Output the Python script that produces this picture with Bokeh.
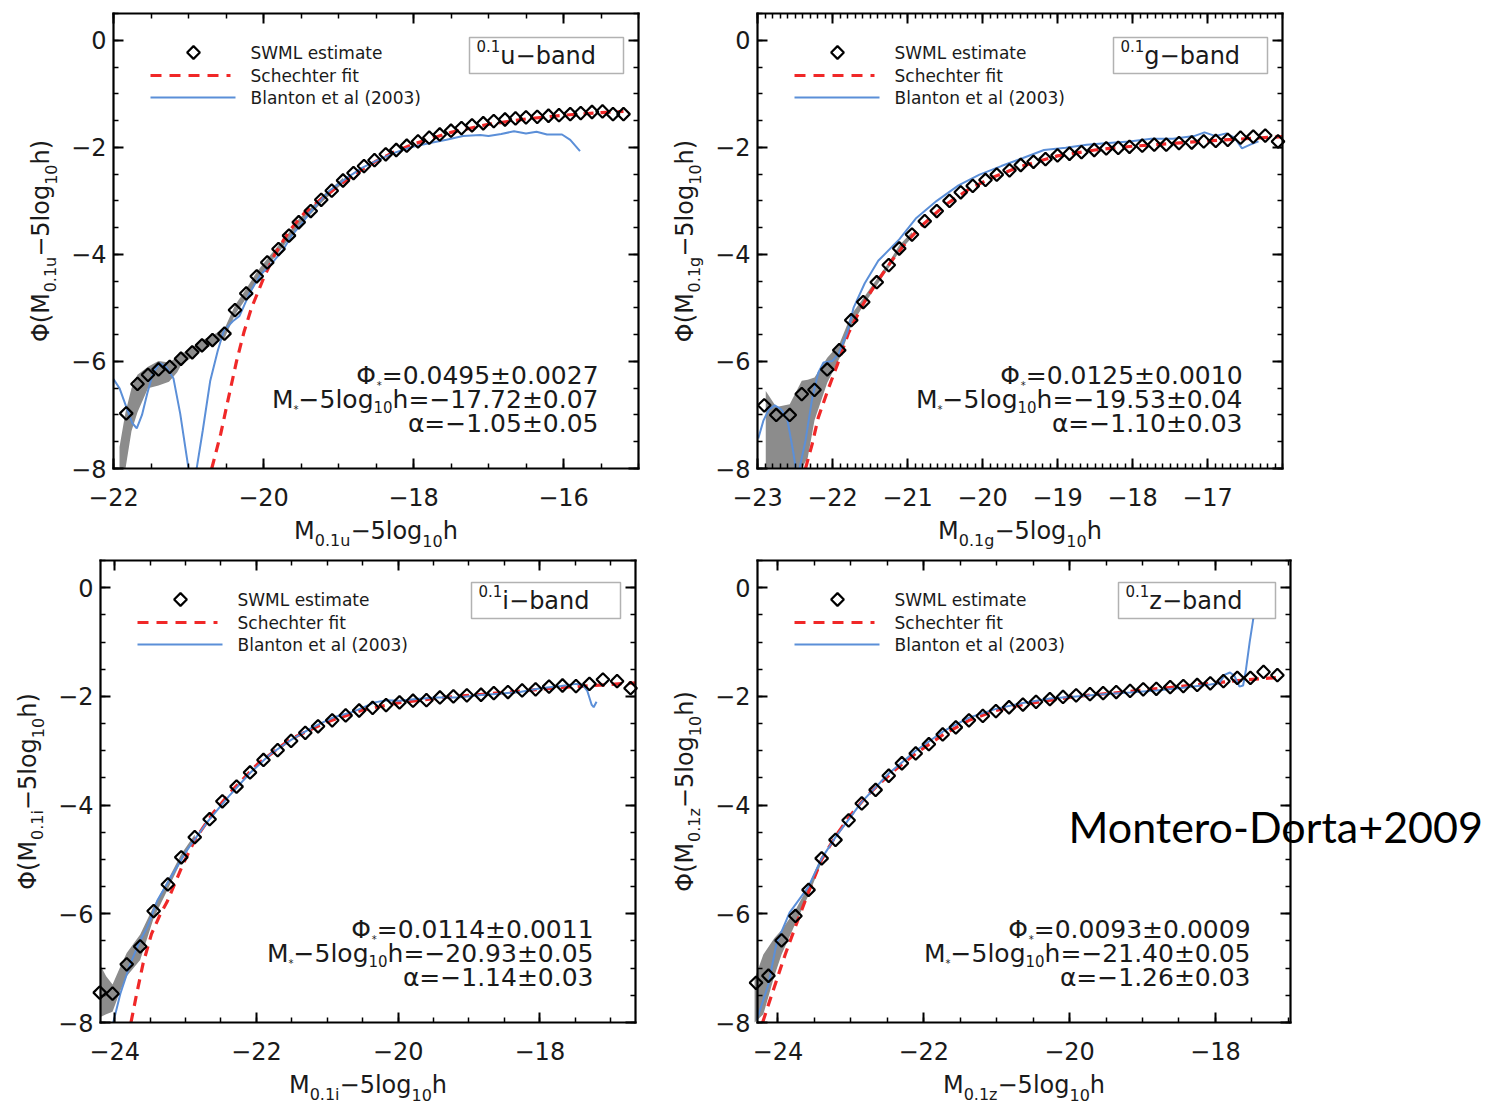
import numpy as np
from bokeh.plotting import figure
from bokeh.layouts import column, row
from bokeh.models import (LinearAxis, FixedTicker, Label, BoxAnnotation, Range1d)
from bokeh.embed import file_html
from bokeh.resources import INLINE

NAN = float("nan")

# ======================= DATA =======================
y_ticks = [0, -2, -4, -6, -8]
y_tick_labels = ["0", "\u22122", "\u22124", "\u22126", "\u22128"]

# ---- 0.1u band ----
u_xticks = [-22, -20, -18, -16]
u_xtick_labels = ["\u221222", "\u221220", "\u221218", "\u221216"]
u_swml_x = [-21.83, -21.68, -21.54, -21.40, -21.25, -21.10, -20.95, -20.82, -20.68, -20.52,
            -20.38, -20.23, -20.09, -19.95, -19.80, -19.66, -19.53, -19.37, -19.23, -19.09,
            -18.94, -18.80, -18.66, -18.52, -18.37, -18.23, -18.09, -17.94, -17.79, -17.65,
            -17.50, -17.36, -17.22, -17.07, -16.93, -16.78, -16.64, -16.50, -16.35, -16.20,
            -16.06, -15.91, -15.77, -15.62, -15.48, -15.34, -15.20]
u_swml_y = [-6.97, -6.42, -6.25, -6.15, -6.10, -5.95, -5.83, -5.70, -5.60, -5.48,
            -5.04, -4.73, -4.41, -4.15, -3.90, -3.65, -3.40, -3.19, -2.98, -2.81,
            -2.62, -2.48, -2.35, -2.24, -2.13, -2.05, -1.97, -1.89, -1.82, -1.76,
            -1.69, -1.64, -1.59, -1.55, -1.51, -1.48, -1.46, -1.44, -1.43, -1.41,
            -1.40, -1.38, -1.36, -1.34, -1.33, -1.38, -1.38]
u_band_x = [-21.92, -21.84, -21.76, -21.68, -21.54, -21.40, -21.26, -21.15, -21.09, -20.95,
            -20.82, -20.68, -20.52, -20.38, -20.23, -20.09, -19.95, -19.80, -19.66, -19.53,
            -19.37, -19.23, -19.09, -18.94]
u_band_lo = [-8.00, -8.00, -7.30, -6.95, -6.50, -6.45, -6.38, -6.20, -6.05, -5.92,
             -5.79, -5.69, -5.57, -5.13, -4.82, -4.49, -4.22, -3.97, -3.71, -3.46,
             -3.25, -3.04, -2.86, -2.67]
u_band_hi = [-7.60, -6.95, -6.50, -6.25, -6.10, -5.99, -6.02, -5.92, -5.85, -5.74,
             -5.61, -5.51, -5.39, -4.95, -4.64, -4.33, -4.08, -3.83, -3.59, -3.34,
             -3.13, -2.92, -2.76, -2.57]
u_fit_x = [-20.69, -20.57, -20.47, -20.36, -20.26, -20.16, -20.00, -19.85, -19.65, -19.45,
           -19.26, -19.00, -18.75, -18.50, -18.25, -18.00, -17.50, -17.00, -16.50, -16.00,
           -15.50, -15.20]
u_fit_y = [-8.00, -7.35, -6.70, -6.00, -5.45, -5.00, -4.45, -4.00, -3.55, -3.22,
           -3.00, -2.72, -2.47, -2.26, -2.08, -1.94, -1.72, -1.57, -1.47, -1.40,
           -1.35, -1.33]
# the Blanton curve leaves the plot below -8 between about -21.0 and -20.9 (gap = NaN)
u_blanton_x = [-22.00, -21.92, -21.83, -21.75, -21.69, -21.62, -21.55, -21.47, -21.38, -21.30,
               -21.20, -21.11, -21.01, -21.00, NAN, -20.90, -20.89, -20.81, -20.71, -20.61,
               -20.53, -20.41, -20.32, -20.18, -20.04, -19.91, -19.74, -19.63, -19.51, -19.37,
               -19.12, -18.90, -18.68, -18.45, -18.23, -18.01, -17.78, -17.56, -17.34, -17.11,
               -17.00, -16.83, -16.66, -16.50, -16.36, -16.22, -16.02, -15.91, -15.78]
u_blanton_y = [-6.33, -6.50, -6.85, -7.15, -7.25, -7.00, -6.60, -6.20, -6.03, -6.10,
               -6.32, -6.98, -7.91, -8.00, NAN, -8.00, -7.99, -7.29, -6.36, -5.80,
               -5.43, -5.25, -5.15, -4.71, -4.38, -4.20, -3.92, -3.66, -3.46, -3.20,
               -2.81, -2.58, -2.38, -2.22, -2.09, -1.99, -1.92, -1.86, -1.79, -1.77,
               -1.79, -1.75, -1.70, -1.74, -1.71, -1.76, -1.76, -1.86, -2.07]
u_params = ["=0.0495\u00b10.0027", "h=\u221217.72\u00b10.07", "\u03b1=\u22121.05\u00b10.05"]

# ---- 0.1g band ----
g_xticks = [-23, -22, -21, -20, -19, -18, -17]
g_xtick_labels = ["\u221223", "\u221222", "\u221221", "\u221220", "\u221219", "\u221218", "\u221217"]
g_swml_x = [-22.91, -22.75, -22.57, -22.41, -22.24, -22.07, -21.91, -21.75, -21.59, -21.41,
            -21.25, -21.11, -20.94, -20.77, -20.61, -20.44, -20.29, -20.13, -19.96, -19.81,
            -19.64, -19.49, -19.32, -19.16, -19.00, -18.84, -18.68, -18.51, -18.35, -18.19,
            -18.04, -17.87, -17.71, -17.55, -17.38, -17.21, -17.05, -16.89, -16.73, -16.56,
            -16.39, -16.23, -16.06]
g_swml_y = [-6.82, -7.00, -7.00, -6.61, -6.53, -6.15, -5.79, -5.23, -4.89, -4.52,
            -4.20, -3.89, -3.63, -3.38, -3.19, -3.00, -2.84, -2.72, -2.61, -2.51,
            -2.43, -2.33, -2.27, -2.22, -2.15, -2.12, -2.09, -2.05, -2.02, -2.01,
            -1.99, -1.97, -1.95, -1.95, -1.92, -1.91, -1.89, -1.88, -1.86, -1.82,
            -1.80, -1.78, -1.89]
g_band_x = [-22.89, -22.75, -22.57, -22.41, -22.33, -22.24, -22.07, -21.91, -21.75, -21.59,
            -21.41, -21.25, -21.11, -20.94]
g_band_lo = [-8.00, -8.00, -8.00, -8.00, -7.80, -7.10, -6.40, -5.95, -5.33, -4.96,
             -4.58, -4.25, -3.95, -3.68]
g_band_hi = [-6.55, -6.85, -6.80, -6.36, -6.34, -6.30, -5.93, -5.68, -5.13, -4.82,
             -4.46, -4.15, -3.83, -3.58]
g_fit_x = [-22.36, -22.27, -22.19, -22.05, -21.93, -21.79, -21.60, -21.40, -21.20, -21.00,
           -20.80, -20.50, -20.20, -19.90, -19.50, -19.00, -18.50, -18.00, -17.50, -17.00,
           -16.50, -16.00]
g_fit_y = [-8.00, -7.54, -7.05, -6.49, -6.04, -5.48, -4.95, -4.50, -4.10, -3.75,
           -3.45, -3.08, -2.80, -2.58, -2.36, -2.16, -2.05, -1.98, -1.93, -1.88,
           -1.84, -1.80]
g_blanton_x = [-22.99, -22.92, -22.85, -22.77, -22.68, -22.60, -22.52, -22.49, NAN, -22.44,
               -22.36, -22.27, -22.19, -22.12, -22.00, -21.92, -21.80, -21.72, -21.57, -21.39,
               -21.11, -20.89, -20.61, -20.32, -20.04, -19.75, -19.46, -19.18, -18.89, -18.61,
               -18.32, -18.04, -17.75, -17.46, -17.18, -17.04, -16.89, -16.75, -16.64, -16.54,
               -16.43, -16.32]
g_blanton_y = [-7.44, -7.10, -6.90, -6.82, -6.90, -7.10, -7.72, -8.00, NAN, -8.00,
               -7.48, -6.68, -6.21, -6.02, -5.99, -5.86, -5.45, -5.00, -4.54, -4.12,
               -3.72, -3.33, -3.00, -2.71, -2.51, -2.35, -2.20, -2.05, -2.01, -1.95,
               -1.92, -1.89, -1.84, -1.84, -1.79, -1.72, -1.79, -1.74, -1.82, -2.02,
               -1.95, -1.89]
g_params = ["=0.0125\u00b10.0010", "h=\u221219.53\u00b10.04", "\u03b1=\u22121.10\u00b10.03"]

# ---- 0.1i band ----
i_xticks = [-24, -22, -20, -18]
i_xtick_labels = ["\u221224", "\u221222", "\u221220", "\u221218"]
i_swml_x = [-24.21, -24.03, -23.83, -23.64, -23.45, -23.25, -23.06, -22.87, -22.66, -22.48,
            -22.28, -22.09, -21.90, -21.70, -21.51, -21.31, -21.13, -20.93, -20.74, -20.55,
            -20.36, -20.17, -19.98, -19.79, -19.60, -19.41, -19.22, -19.03, -18.83, -18.65,
            -18.45, -18.25, -18.06, -17.87, -17.68, -17.49, -17.30, -17.11, -16.91, -16.72]
i_swml_y = [-7.45, -7.47, -6.93, -6.60, -5.95, -5.46, -4.96, -4.59, -4.26, -3.93,
            -3.66, -3.40, -3.17, -2.99, -2.82, -2.67, -2.55, -2.44, -2.35, -2.26,
            -2.21, -2.16, -2.11, -2.08, -2.07, -2.02, -2.00, -1.98, -1.97, -1.94,
            -1.92, -1.89, -1.87, -1.82, -1.80, -1.81, -1.77, -1.69, -1.72, -1.85]
i_band_x = [-24.20, -24.12, -24.03, -23.93, -23.83, -23.64, -23.45, -23.25, -23.06, -22.87]
i_band_lo = [-7.90, -7.85, -7.80, -7.45, -7.15, -6.85, -6.08, -5.55, -5.03, -4.64]
i_band_hi = [-6.95, -7.15, -7.30, -7.00, -6.72, -6.38, -5.86, -5.38, -4.90, -4.54]
i_fit_x = [-23.77, -23.70, -23.60, -23.48, -23.36, -23.26, -23.03, -22.86, -22.62, -22.33,
           -21.98, -21.51, -21.00, -20.50, -20.00, -19.50, -19.00, -18.50, -18.00, -17.50,
           -17.00, -16.65]
i_fit_y = [-8.00, -7.54, -6.92, -6.37, -6.02, -5.78, -5.07, -4.62, -4.16, -3.71,
           -3.24, -2.78, -2.47, -2.25, -2.12, -2.04, -1.98, -1.93, -1.87, -1.82,
           -1.78, -1.75]
i_blanton_x = [-24.02, -23.92, -23.78, -23.64, -23.54, -23.40, -23.21, -22.97, -22.68, -22.39,
               -22.09, -21.80, -21.51, -21.21, -20.92, -20.63, -20.33, -20.16, -19.98, -19.75,
               -19.45, -19.16, -18.87, -18.57, -18.28, -17.99, -17.70, -17.49, -17.40, -17.33,
               -17.27, -17.24, -17.20]
i_blanton_y = [-8.00, -7.47, -6.92, -6.49, -6.25, -5.76, -5.33, -4.81, -4.29, -3.84,
               -3.41, -3.06, -2.80, -2.57, -2.39, -2.28, -2.11, -2.07, -2.08, -2.05,
               -2.02, -2.02, -1.98, -1.95, -1.92, -1.85, -1.81, -1.77, -1.78, -1.90,
               -2.15, -2.20, -2.10]
i_params = ["=0.0114\u00b10.0011", "h=\u221220.93\u00b10.05", "\u03b1=\u22121.14\u00b10.03"]

# ---- 0.1z band ----
z_xticks = [-24, -22, -20, -18]
z_xtick_labels = ["\u221224", "\u221222", "\u221220", "\u221218"]
z_swml_x = [-24.30, -24.13, -23.95, -23.76, -23.58, -23.40, -23.21, -23.03, -22.85, -22.66,
            -22.48, -22.30, -22.11, -21.93, -21.74, -21.56, -21.38, -21.19, -21.01, -20.83,
            -20.64, -20.46, -20.27, -20.09, -19.91, -19.72, -19.54, -19.36, -19.17, -18.99,
            -18.81, -18.62, -18.44, -18.25, -18.07, -17.89, -17.70, -17.52, -17.34, -17.15]
z_swml_y = [-7.27, -7.14, -6.49, -6.04, -5.56, -4.98, -4.64, -4.28, -3.97, -3.72,
            -3.46, -3.23, -3.05, -2.88, -2.70, -2.57, -2.44, -2.36, -2.27, -2.20,
            -2.15, -2.10, -2.05, -2.01, -1.98, -1.96, -1.94, -1.92, -1.90, -1.87,
            -1.86, -1.83, -1.81, -1.79, -1.76, -1.72, -1.66, -1.66, -1.55, -1.61]
z_band_x = [-24.32, -24.20, -24.05, -23.95, -23.76, -23.58, -23.40]
z_band_lo = [-8.00, -7.85, -7.15, -6.75, -6.18, -5.66, -5.05]
z_band_hi = [-7.20, -6.75, -6.45, -6.30, -5.93, -5.48, -4.93]
z_fit_x = [-24.21, -24.05, -23.90, -23.75, -23.58, -23.40, -23.20, -23.00, -22.80, -22.60,
           -22.40, -22.11, -21.74, -21.38, -21.01, -20.64, -19.91, -19.17, -18.44, -17.70,
           -17.12]
z_fit_y = [-8.00, -7.35, -6.75, -6.20, -5.60, -5.00, -4.55, -4.18, -3.86, -3.60,
           -3.36, -3.05, -2.71, -2.44, -2.26, -2.15, -2.00, -1.91, -1.81, -1.71,
           -1.65]
z_blanton_x = [-24.29, -24.13, -24.02, -23.84, -23.58, -23.40, -23.21, -22.85, -22.48, -22.11,
               -21.74, -21.38, -21.01, -20.64, -20.27, -19.91, -19.54, -19.17, -18.81, -18.44,
               -18.07, -17.95, -17.87, -17.80, -17.74, -17.67, -17.62, -17.58, -17.53, -17.48]
z_blanton_y = [-7.95, -7.30, -6.55, -5.98, -5.50, -4.98, -4.59, -3.94, -3.42, -3.00,
               -2.65, -2.39, -2.23, -2.12, -2.04, -2.00, -1.96, -1.93, -1.89, -1.84,
               -1.78, -1.76, -1.60, -1.56, -1.62, -1.82, -1.80, -1.50, -1.00, -0.57]
z_params = ["=0.0093\u00b10.0009", "h=\u221221.40\u00b10.05", "\u03b1=\u22121.26\u00b10.03"]

legend_labels = ["SWML estimate", "Schechter fit", "Blanton et al (2003)"]
corner_note = "Montero-Dorta+2009"

# ======================= STYLE / LAYOUT =======================
FONT = "DejaVu Sans"
TXT = "#1a1a1a"
RED = "#f02828"
BLUE = "#5b8fd8"
GREY = "#8c8c8c"
Y_BOX = (-8.0, 0.5)

CW = {c: 636 for c in "0123456789"}
CW.update({' ': 318, '.': 318, '=': 838, '\u00b1': 838, '\u2212': 838, '+': 838, 'M': 863,
           'l': 278, 'o': 612, 'g': 635, 'h': 634, 'u': 634, 'i': 278, 'z': 525, 'b': 635,
           'a': 613, 'n': 634, 'd': 635, '(': 390, ')': 390, '*': 500, '\u03a6': 820,
           '\u03b1': 659})


def tw(s, size):
    return sum(CW.get(c, 620) for c in s) * size / 1000.0


def make_panel(geo, d):
    fx, fy, fw, fh = geo["fig"]
    L, T, R, B = geo["box"]              # page pixels of the plot box
    bx0, bx1 = geo["xr"]                 # data range of the plot box
    by0, by1 = Y_BOX
    ppx = (R - L) / (bx1 - bx0)
    ppy = (B - T) / (by1 - by0)
    xs, xe = bx0 - (L - fx) / ppx, bx1 + (fx + fw - R) / ppx
    ys, ye = by0 - (fy + fh - B) / ppy, by1 + (T - fy) / ppy
    p = figure(width=fw, height=fh, x_range=Range1d(xs, xe), y_range=Range1d(ys, ye),
               output_backend="svg", toolbar_location=None,
               min_border_left=0, min_border_right=0, min_border_top=0, min_border_bottom=0)
    p.xgrid.visible = False
    p.ygrid.visible = False
    p.outline_line_color = None
    p.background_fill_color = "white"
    p.border_fill_color = "white"

    def X(px):
        return bx0 + (px - L) / ppx

    def Y(py):
        return by1 - (py - T) / ppy

    st = geo["xminor"]
    xminor = list(np.arange(np.ceil(bx0 / st) * st, bx1 + 1e-9, st))
    yminor = list(np.arange(-8.0, 0.5 + 1e-9, 0.5))

    def style(ax, ticks, minor, labels, loc, bounds, standoff=0):
        ax.fixed_location = loc
        ax.bounds = bounds
        ax.ticker = FixedTicker(ticks=ticks, minor_ticks=minor)
        ax.major_tick_in = 10
        ax.major_tick_out = 0
        ax.minor_tick_in = 5
        ax.minor_tick_out = 0
        ax.axis_line_width = 2.2
        ax.axis_line_color = "black"
        ax.axis_line_cap = "square"
        ax.major_tick_line_width = 2
        ax.major_tick_line_color = "black"
        ax.minor_tick_line_width = 1.5
        ax.minor_tick_line_color = "black"
        if labels is not None:
            ax.major_label_text_font = FONT
            ax.major_label_text_font_size = "24px"
            ax.major_label_text_color = TXT
            ax.major_label_standoff = standoff
            ax.major_label_overrides = dict(zip(ticks, labels))
        else:
            ax.major_label_overrides = {t: "" for t in ticks}
            ax.major_label_text_color = None
            ax.major_label_standoff = 0

    style(p.xaxis[0], d["xticks"], xminor, d["xlabels"], by0, (bx0, bx1), 19)
    style(p.yaxis[0], y_ticks, yminor, y_tick_labels, bx0, (by0, by1), 7)
    top = LinearAxis()
    right = LinearAxis()
    style(top, d["xticks"], xminor, None, by1, (bx0, bx1))
    style(right, y_ticks, yminor, None, bx1, (by0, by1))
    p.add_layout(top, "above")
    p.add_layout(right, "right")

    # data glyphs
    p.varea(x=d["band_x"], y1=d["band_lo"], y2=d["band_hi"], fill_color=GREY)
    p.line(np.array(d["fit_x"]), np.array(d["fit_y"]), line_color=RED, line_width=3.2,
           line_dash="10 7")
    p.line(np.array(d["bl_x"]), np.array(d["bl_y"]), line_color=BLUE, line_width=2)
    p.scatter(d["sw_x"], d["sw_y"], marker="square", angle=np.pi / 4, size=9,
              line_color="black", line_width=2.2, fill_color=None)

    def lab(text, px, py, size, font=FONT, color=TXT, ang=0.0):
        p.add_layout(Label(x=X(px), y=Y(py), text=text, text_font=font,
                           text_font_size=f"{size}px", text_color=color,
                           text_align="left", text_baseline="middle", angle=ang))

    # legend (sample marks + labels)
    p.scatter([X(L + 80)], [Y(T + 39)], marker="square", angle=np.pi / 4, size=9,
              line_color="black", line_width=2.2, fill_color=None)
    p.line([X(L + 37), X(L + 117)], [Y(T + 62), Y(T + 62)], line_color=RED, line_width=3,
           line_dash="11 8")
    p.line([X(L + 37), X(L + 122)], [Y(T + 84), Y(T + 84)], line_color=BLUE, line_width=2)
    for k, ty in enumerate([39, 62, 84]):
        lab(legend_labels[k], L + 137, T + ty, 17)

    def rich(pieces, x, y, align, S, s, sub_off, vertical=False):
        sizes = {"n": S, "sub": s, "sup": s, "star": 10}
        offs = {"n": 0, "sub": sub_off, "sup": -10, "star": 10}
        widths = [tw(t, sizes[k]) for t, k in pieces]
        total = sum(widths)
        pos = {"left": 0.0, "center": -total / 2.0, "right": -total}[align]
        for (t, k), w in zip(pieces, widths):
            if vertical:
                lab(t, x + offs[k], y - pos, sizes[k], ang=np.pi / 2)
            else:
                lab(t, x + pos, y + offs[k], sizes[k])
            pos += w

    # band label box
    bw = geo["boxw"]
    bt = T + geo["boxtop"]
    p.add_layout(BoxAnnotation(left=X(R - 15 - bw), right=X(R - 15), top=Y(bt), bottom=Y(bt + 36),
                               fill_color="white", fill_alpha=1.0, line_color="black",
                               line_width=1.5))
    rich([("0.1", "sup"), (d["band"] + "\u2212band", "n")], R - 15 - bw + 7, bt + 18,
         "left", 24, 15, 7)

    # fit parameters
    xr_ = R - geo["parright"]
    rich([("\u03a6", "n"), ("*", "star"), (d["params"][0], "n")], xr_, B - 93, "right", 25, 15, 7)
    rich([("M", "n"), ("*", "star"), ("\u22125log", "n"), ("10", "sub"), (d["params"][1], "n")],
         xr_, B - 69, "right", 25, 15, 7)
    rich([(d["params"][2], "n")], xr_, B - 45, "right", 25, 15, 7)

    # axis titles
    sub = "0.1" + d["band"]
    rich([("M", "n"), (sub, "sub"), ("\u22125log", "n"), ("10", "sub"), ("h", "n")],
         (L + R) / 2.0, B + 62, "center", 24, 16, 10)
    rich([("\u03a6(M", "n"), (sub, "sub"), ("\u22125log", "n"), ("10", "sub"), ("h)", "n")],
         L - 73, (T + B) / 2.0, "center", 24, 16, 10, vertical=True)

    if geo.get("note"):
        lab(corner_note, 1068, 826, 43, font="Lato", color="black")
    return p


GEO = {
    "u": dict(fig=(0, 0, 650, 550), box=(113, 13, 638, 468), xr=(-22.0, -15.0), xminor=0.5,
              boxw=154, boxtop=24, parright=40),
    "g": dict(fig=(650, 0, 836, 550), box=(757, 13, 1282, 468), xr=(-23.0, -16.0), xminor=0.1,
              boxw=154, boxtop=24, parright=40),
    "i": dict(fig=(0, 550, 650, 553), box=(100, 560, 635, 1022), xr=(-24.2, -16.65), xminor=0.5,
              boxw=149, boxtop=22, parright=42),
    "z": dict(fig=(650, 550, 836, 553), box=(757, 560, 1290, 1022), xr=(-24.28, -16.97),
              xminor=0.5, boxw=157, boxtop=22, parright=40, note=True),
}

DATA = {
    "u": dict(band="u", xticks=u_xticks, xlabels=u_xtick_labels, sw_x=u_swml_x, sw_y=u_swml_y,
              band_x=u_band_x, band_lo=u_band_lo, band_hi=u_band_hi, fit_x=u_fit_x, fit_y=u_fit_y,
              bl_x=u_blanton_x, bl_y=u_blanton_y, params=u_params),
    "g": dict(band="g", xticks=g_xticks, xlabels=g_xtick_labels, sw_x=g_swml_x, sw_y=g_swml_y,
              band_x=g_band_x, band_lo=g_band_lo, band_hi=g_band_hi, fit_x=g_fit_x, fit_y=g_fit_y,
              bl_x=g_blanton_x, bl_y=g_blanton_y, params=g_params),
    "i": dict(band="i", xticks=i_xticks, xlabels=i_xtick_labels, sw_x=i_swml_x, sw_y=i_swml_y,
              band_x=i_band_x, band_lo=i_band_lo, band_hi=i_band_hi, fit_x=i_fit_x, fit_y=i_fit_y,
              bl_x=i_blanton_x, bl_y=i_blanton_y, params=i_params),
    "z": dict(band="z", xticks=z_xticks, xlabels=z_xtick_labels, sw_x=z_swml_x, sw_y=z_swml_y,
              band_x=z_band_x, band_lo=z_band_lo, band_hi=z_band_hi, fit_x=z_fit_x, fit_y=z_fit_y,
              bl_x=z_blanton_x, bl_y=z_blanton_y, params=z_params),
}

panels = {k: make_panel(GEO[k], DATA[k]) for k in ["u", "g", "i", "z"]}
layout = column(row(panels["u"], panels["g"], spacing=0),
                row(panels["i"], panels["z"], spacing=0), spacing=0)

open("out.html", "w").write(file_html(layout, INLINE))
